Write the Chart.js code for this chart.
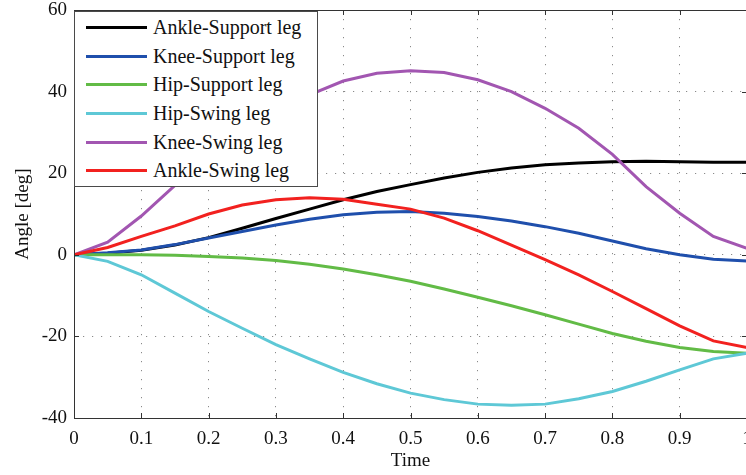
<!DOCTYPE html>
<html>
<head>
<meta charset="utf-8">
<script src="https://cdn.jsdelivr.net/npm/chart.js@4/dist/chart.umd.min.js"></script>
<style>
  html, body { margin: 0; padding: 0; background: #fff; overflow: hidden; }
  #wrap { position: relative; width: 752px; height: 475px; }
  #legend {
    position: absolute; left: 74px; top: 11px; width: 244px; height: 176px;
    box-sizing: border-box; border: 1px solid #4a4a4a; background: #fff;
    padding-top: 1px; font-family: "Liberation Serif", serif; font-size: 20px; color: #111;
  }
  .row { display: flex; align-items: center; height: 28.7px; white-space: nowrap; }
  .swatch { width: 61px; height: 3px; margin-left: 11px; margin-right: 6px; flex: none; }
</style>
</head>
<body>
<div id="wrap">
  <canvas id="chart" width="752" height="475"></canvas>
  <div id="legend"></div>
</div>
<script>
// time axis, one sample every 0.05
const time = [0, 0.05, 0.1, 0.15, 0.2, 0.25, 0.3, 0.35, 0.4, 0.45, 0.5,
  0.55, 0.6, 0.65, 0.7, 0.75, 0.8, 0.85, 0.9, 0.95, 1];

const ankleSupport = [0, 0.4, 1.1, 2.4, 4.2, 6.5, 8.9, 11.2, 13.5, 15.5, 17.2,
  18.8, 20.2, 21.3, 22.1, 22.5, 22.8, 22.9, 22.8, 22.7, 22.7];
const kneeSupport = [0, 0.5, 1.2, 2.5, 4.1, 5.7, 7.3, 8.7, 9.8, 10.4, 10.6,
  10.2, 9.4, 8.3, 6.9, 5.3, 3.4, 1.5, 0.0, -1.1, -1.5];
const hipSupport = [0, 0, 0, -0.1, -0.4, -0.8, -1.4, -2.3, -3.5, -4.9, -6.5,
  -8.4, -10.4, -12.5, -14.7, -17.0, -19.3, -21.2, -22.7, -23.7, -24.1];
const hipSwing = [0, -1.6, -4.9, -9.4, -13.9, -18.0, -22.0, -25.5, -28.8, -31.6, -33.9,
  -35.5, -36.6, -36.9, -36.6, -35.3, -33.5, -31.0, -28.2, -25.5, -24.1];
const kneeSwing = [0, 3.1, 9.5, 17.0, 24.0, 30.0, 35.2, 39.2, 42.6, 44.5, 45.1,
  44.7, 42.9, 40.0, 35.9, 31.0, 24.6, 16.7, 10.2, 4.5, 1.6];
const ankleSwing = [0, 1.8, 4.5, 7.1, 10.0, 12.2, 13.5, 14.0, 13.6, 12.4, 11.2,
  9.0, 5.9, 2.4, -1.2, -4.9, -9.0, -13.2, -17.4, -21.1, -22.7];

const labels = ["Ankle-Support leg", "Knee-Support leg", "Hip-Support leg",
  "Hip-Swing leg", "Knee-Swing leg", "Ankle-Swing leg"];
const colors = ["#000000", "#1f4fac", "#62bb46", "#5ec8d6", "#a256b1", "#f2211f"];
const series = [ankleSupport, kneeSupport, hipSupport, hipSwing, kneeSwing, ankleSwing];

const serif = "'Liberation Serif', 'Times New Roman', serif";

const datasets = series.map((vals, i) => ({
  label: labels[i],
  data: vals.map((v, k) => ({ x: time[k], y: v })),
  borderColor: colors[i],
  borderWidth: 3,
  pointRadius: 0,
  tension: 0,
  fill: false,
  order: series.length - i, // later series on top, like matlab
}));

// legend drawn as html on top of the plot
const legendEl = document.getElementById("legend");
labels.forEach((name, i) => {
  const row = document.createElement("div");
  row.className = "row";
  row.innerHTML = `<span class="swatch" style="background:${colors[i]}"></span><span>${name}</span>`;
  legendEl.appendChild(row);
});

// box around the axes + inward tick marks
const axesBox = {
  id: "axesBox",
  afterDraw(chart) {
    const { ctx, chartArea: a, scales } = chart;
    const len = 5;
    ctx.save();
    ctx.strokeStyle = "#333";
    ctx.lineWidth = 1;
    ctx.beginPath();
    scales.x.ticks.forEach((t) => {
      const px = Math.round(scales.x.getPixelForValue(t.value)) + 0.5;
      ctx.moveTo(px, a.bottom); ctx.lineTo(px, a.bottom - len);
      ctx.moveTo(px, a.top); ctx.lineTo(px, a.top + len);
    });
    scales.y.ticks.forEach((t) => {
      const py = Math.round(scales.y.getPixelForValue(t.value)) + 0.5;
      ctx.moveTo(a.left, py); ctx.lineTo(a.left + len, py);
      ctx.moveTo(a.right, py); ctx.lineTo(a.right - len, py);
    });
    ctx.stroke();
    ctx.strokeRect(Math.round(a.left) + 0.5, Math.round(a.top) + 0.5,
      Math.round(a.right - a.left), Math.round(a.bottom - a.top));
    ctx.restore();
  },
};

const gridOpts = { color: "#8a8a8a", lineWidth: 1, drawTicks: false };
const tickFont = { family: serif, size: 19 };

new Chart(document.getElementById("chart"), {
  type: "line",
  data: { datasets },
  options: {
    responsive: false,
    animation: false,
    devicePixelRatio: 1,
    layout: { padding: 0 },
    plugins: { legend: { display: false }, tooltip: { enabled: false } },
    scales: {
      x: {
        type: "linear",
        min: 0,
        max: 1,
        grid: gridOpts,
        border: { display: false, dash: [1.2, 7.8] },
        ticks: {
          stepSize: 0.1, padding: 10, color: "#111", font: tickFont,
          callback: (v) => String(Math.round(v * 10) / 10),
        },
        title: { display: true, text: "Time", color: "#111", padding: { top: 0, bottom: 3 }, font: tickFont },
        afterFit: (s) => { s.height = 57; s.paddingRight = 5; s.paddingLeft = 0; },
      },
      y: {
        min: -40,
        max: 60,
        grid: gridOpts,
        border: { display: false, dash: [1.2, 7.8] },
        ticks: { stepSize: 20, padding: 7, color: "#111", font: tickFont },
        title: { display: true, text: "Angle [deg]", color: "#111", padding: { top: 12, bottom: 0 }, font: tickFont },
        afterFit: (s) => { s.width = 74; s.paddingTop = 10; s.paddingBottom = 0; },
      },
    },
  },
  plugins: [axesBox],
});
</script>
</body>
</html>
